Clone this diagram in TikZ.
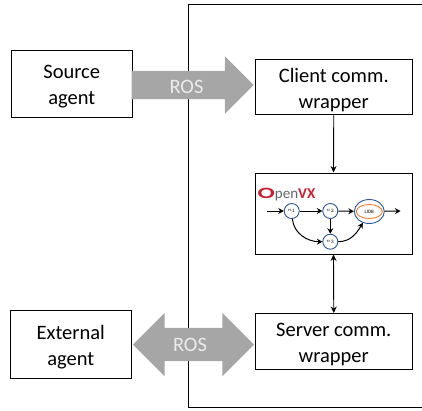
\documentclass[tikz,border=0pt]{standalone}
\usepackage{graphicx}
\usepackage{fontspec}
\setmainfont{Carlito}
\usetikzlibrary{shapes.geometric,shapes.arrows,arrows.meta}
\definecolor{rosGray}{HTML}{A6A6A6}
\definecolor{vxBlue}{HTML}{2F5597}
\definecolor{vxOrange}{HTML}{ED7D31}
\definecolor{vxRed}{HTML}{C8202F}
\begin{document}
\begin{tikzpicture}
[x=1pt,y=-1pt,
  boxDecorate/.style={shape=rectangle,draw,line width=1pt,fill=white,inner sep=0pt,align=center,font=\fontsize{20.5}{26}\selectfont},
  lineDecorate/.style={-{Stealth[length=6.5pt,width=6pt]},line width=0.9pt},
  bothDecorate/.style={{Stealth[length=6.5pt,width=6pt]}-{Stealth[length=6.5pt,width=6pt]},line width=0.9pt},
  rosDecorate/.style={fill=rosGray,inner sep=0pt},
  rosText/.style={text=white!92!black,inner sep=0pt,font=\fontsize{20.5}{24}\selectfont},
  kernelDecorate/.style={shape=circle,draw=vxBlue,line width=0.9pt,fill=white,minimum size=15pt,inner sep=0pt,font=\fontsize{4}{4}\selectfont},
  flowDecorate/.style={-{Stealth[length=5.5pt,width=6pt]},line width=1pt}]
\useasboundingbox (0,0) rectangle (422,410);
%% outer frame
\coordinate (frameTop) at (422,4);
\coordinate (frameCorner) at (188,4);
\coordinate (frameLow) at (188,407.5);
\coordinate (frameEnd) at (422,407.5);
\draw[line width=1pt] (frameTop) -- (frameCorner) -- (frameLow) -- (frameEnd);
%% boxes
\foreach \nodename/\x/\y/\w/\h/\txt in {
  source/71.75/83.5/120.5/67/{Source\\agent},
  client/333.75/86.5/156.5/55/{Client comm.\\wrapper},
  server/333.75/341.25/156.5/55.5/{Server comm.\\wrapper},
  external/70.75/344.25/120.5/67.5/{External\\agent}}
{
  \node (\nodename) at (\x,\y) [boxDecorate,minimum width=\w pt,minimum height=\h pt] {\rule{0pt}{20.5pt}\txt};
}
\node (vx) at (333.5,213.5) [boxDecorate,minimum width=157pt,minimum height=81pt] {};
%% ROS arrows
\node (rosOut) at (185.5,85) [rosDecorate,shape=single arrow,single arrow head extend=14.5pt,minimum height=122pt] {\rule{0pt}{28pt}};
\node (rosBoth) at (193.5,344.5) [rosDecorate,shape=double arrow,double arrow head extend=15pt,minimum height=121pt] {\rule{0pt}{33pt}};
\node (rosOutText) at (186.5,86.5) [rosText] {ROS};
\node (rosBothText) at (190,345) [rosText] {ROS};
%% edges between boxes
\draw[lineDecorate] (client.south) -- (vx.north);
\draw[bothDecorate] (vx.south) -- (server.north);
%% graph inside
\foreach \nodename/\x/\y/\txt in {
  n1/291.7/211/$n_1$, n2/330.3/211/$n_2$, n3/330.3/241.7/$n_3$}
{
  \node (\nodename) at (\x,\y) [kernelDecorate] {\txt};
}
\node (lidb) at (369.3,211.5) [shape=ellipse,draw=vxBlue,line width=0.9pt,fill=white,minimum width=30pt,minimum height=24pt,inner sep=0pt] {};
\node (lidbText) at (369.3,211.5) [shape=ellipse,draw=vxOrange,line width=0.9pt,minimum width=26pt,minimum height=14pt,inner sep=0pt,font=\fontsize{5}{5}\selectfont] {LIDB};
\coordinate (flowIn) at (266.5,211);
\coordinate (flowOut) at (400.5,211);
\draw[flowDecorate] (flowIn) -- (n1);
\draw[flowDecorate] (lidb) -- (flowOut);
\path
\foreach \startnode/\endnode in {
  n1/n2, n2/lidb, n2/n3}
{
  (\startnode) edge[flowDecorate] (\endnode)
};
\draw[flowDecorate] (n1) to[out=-85,in=180] (n3);
\draw[flowDecorate] (n3) to[out=0,in=-120] (lidb);
%% logo
\node (logo) at (286.5,195) [inner sep=0pt,text=black!60,font=\fontsize{15}{15}\selectfont] {\textcolor{vxRed}{\scalebox{1.7}[1.05]{\bfseries O}}pen\textcolor{vxRed}{\bfseries VX}};
\end{tikzpicture}
\end{document}
